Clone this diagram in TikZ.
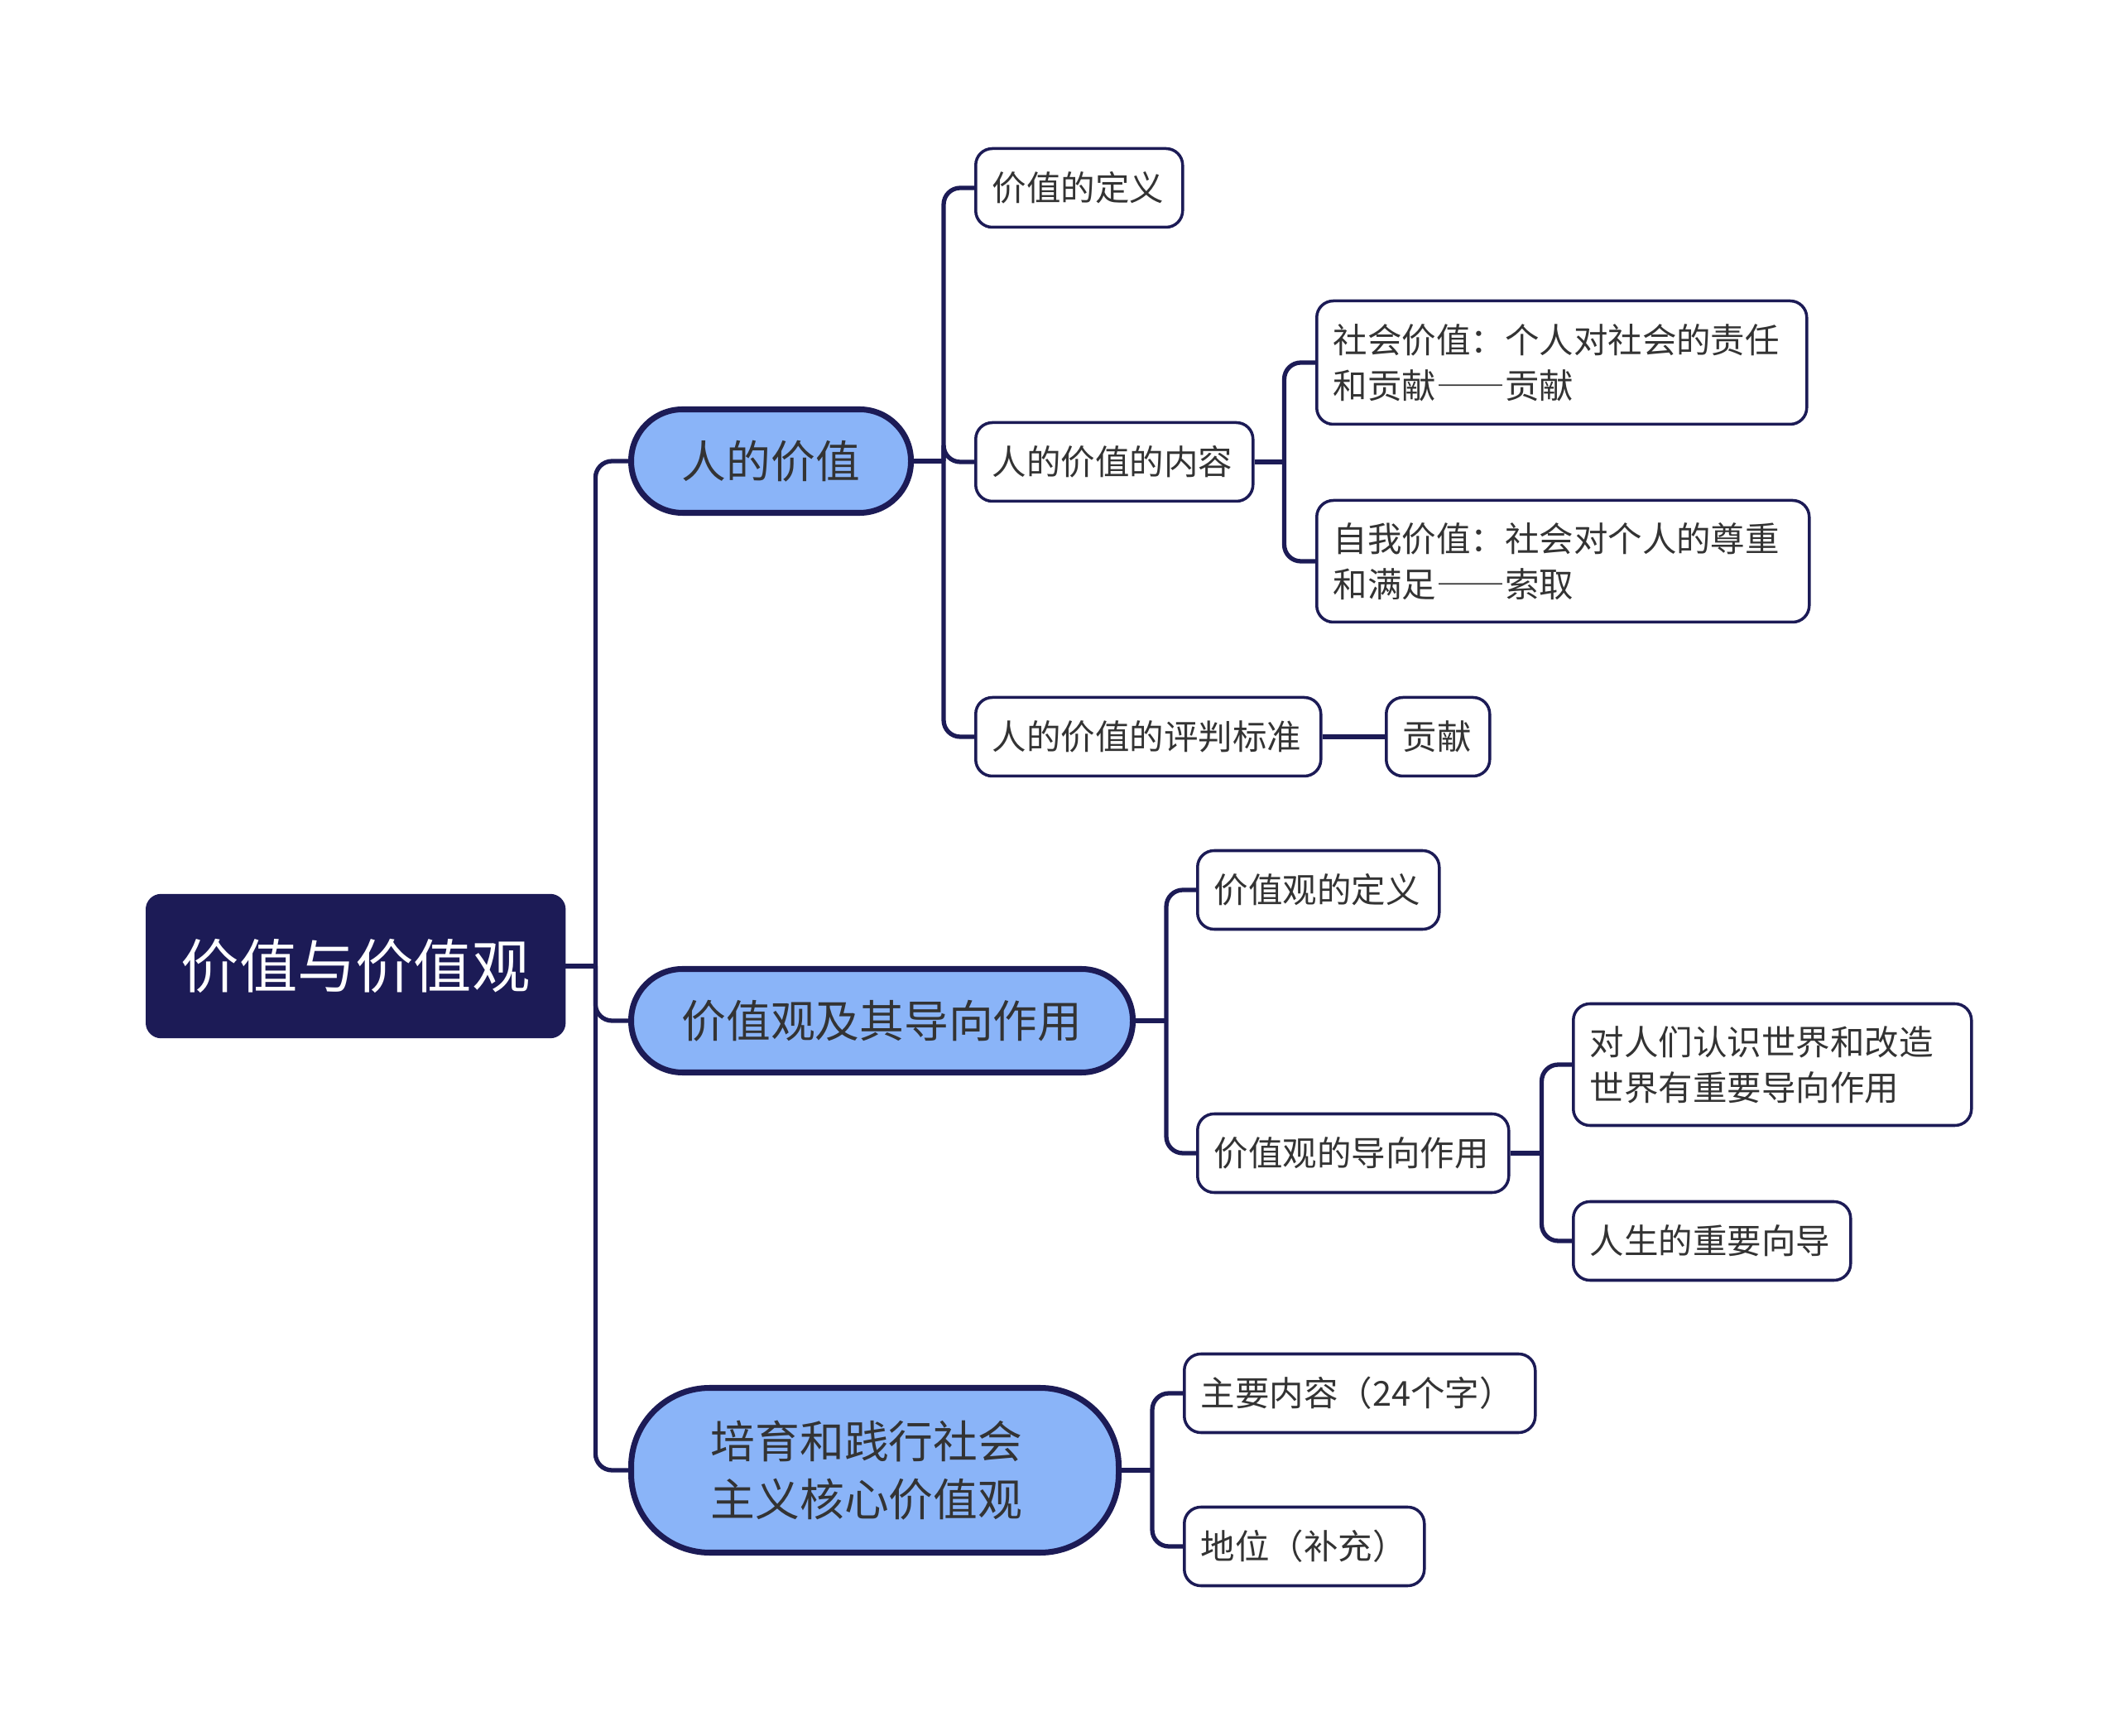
\documentclass[tikz,border=0pt]{standalone}
\usepackage{fontspec}
\setmainfont{Noto Sans CJK SC}
\definecolor{navy}{HTML}{1C1B56}
\definecolor{skyblue}{HTML}{8AB4F8}
\definecolor{inkgray}{HTML}{333333}
\newcommand{\fwdash}{{\addfontfeature{CharacterWidth=Full}——}}
\tikzset{
  rootbox/.style={fill=navy, draw=navy, rounded corners=0.18cm, text=white,
    font=\fontsize{20}{24}\selectfont, minimum width=5.06cm, minimum height=1.73cm, anchor=west},
  topic/.style={fill=skyblue, draw=navy, line width=2pt, text=inkgray, align=center,
    font=\fontsize{15.3}{19.9}\selectfont, minimum height=1.25cm, anchor=west},
  leaf/.style={fill=white, draw=navy, line width=1pt, rounded corners=0.2cm, text=inkgray,
    font=\fontsize{11.8}{15.6}\selectfont, align=left, inner xsep=0.2cm, minimum height=0.95cm, anchor=west},
  link/.style={draw=navy, line width=1.5pt, rounded corners=0.2cm},
}
\begin{document}
\begin{tikzpicture}
    \useasboundingbox (0,0) rectangle (25.6,-20.97);

    % Root
    \node[rootbox] (root) at (1.76,-11.67) {价值与价值观};

    % Branch 1: 人的价值
    \begin{scope}
        \node[topic, minimum width=3.38cm, rounded corners=0.62cm] (rv) at (7.59,-5.57) {人的价值};
        \node[leaf, text width=2.10cm] (a1) at (11.77,-2.27) {价值的定义};
        \node[leaf, text width=2.95cm] (a2) at (11.77,-5.58) {人的价值的内容};
        \node[leaf, text width=3.77cm] (a3) at (11.77,-8.90) {人的价值的评判标准};
        \node[leaf, text width=0.85cm] (a31) at (16.73,-8.90) {贡献};
        \node[leaf, text width=5.52cm, minimum height=1.49cm] (a21) at (15.89,-4.38) {社会价值：个人对社会的责任\\和贡献\fwdash 贡献};
        \node[leaf, text width=5.55cm, minimum height=1.47cm] (a22) at (15.89,-6.78) {自我价值：社会对个人的尊重\\和满足\fwdash 索取};

        \draw[link] (rv.east) -- ([xshift=3.6mm]rv.east);
        \foreach \c in {a1,a2,a3}
            \draw[link] ([xshift=3.6mm]rv.east) |- (\c.west);
        \draw[link] (a2.east) -- ([xshift=3.6mm]a2.east);
        \foreach \c in {a21,a22}
            \draw[link] ([xshift=3.6mm]a2.east) |- (\c.west);
        \draw[link] (a3.east) -- (a31.west);
    \end{scope}

    % Branch 2: 价值观及其导向作用
    \begin{scope}
        \node[topic, minimum width=6.06cm, rounded corners=0.62cm] (vo) at (7.59,-12.33) {价值观及其导向作用};
        \node[leaf, text width=2.52cm] (b1) at (14.45,-10.75) {价值观的定义};
        \node[leaf, text width=3.36cm] (b2) at (14.45,-13.93) {价值观的导向作用};
        \node[leaf, text width=4.41cm, minimum height=1.47cm] (b21) at (18.99,-12.86) {对人们认识世界和改造\\世界有重要导向作用};
        \node[leaf, text width=2.95cm] (b22) at (18.99,-14.99) {人生的重要向导};

        \draw[link] (vo.east) -- ([xshift=3.7mm]vo.east);
        \foreach \c in {b1,b2}
            \draw[link] ([xshift=3.7mm]vo.east) |- (\c.west);
        \draw[link] (b2.east) -- ([xshift=3.8mm]b2.east);
        \foreach \c in {b21,b22}
            \draw[link] ([xshift=3.8mm]b2.east) |- (\c.west);
    \end{scope}

    % Branch 3: 培育和践行社会主义核心价值观
    \begin{scope}
        \node[topic, minimum width=5.89cm, minimum height=1.99cm, rounded corners=0.95cm] (pe) at (7.59,-17.76) {培育和践行社会\hspace*{0.2cm}\\主义核心价值观\hspace*{0.2cm}};
        \node[leaf, text width=3.84cm] (c1) at (14.29,-16.83) {主要内容（24个字）};
        \node[leaf, text width=2.50cm] (c2) at (14.29,-18.68) {地位（补充）};

        \draw[link] (pe.east) -- ([xshift=3.7mm]pe.east);
        \foreach \c in {c1,c2}
            \draw[link] ([xshift=3.7mm]pe.east) |- (\c.west);
    \end{scope}

    % Root to branches
    \draw[link] (root.east) -- ([xshift=3.6mm]root.east);
    \foreach \t in {rv,vo,pe}
        \draw[link] ([xshift=3.6mm]root.east) |- (\t.west);
\end{tikzpicture}
\end{document}
